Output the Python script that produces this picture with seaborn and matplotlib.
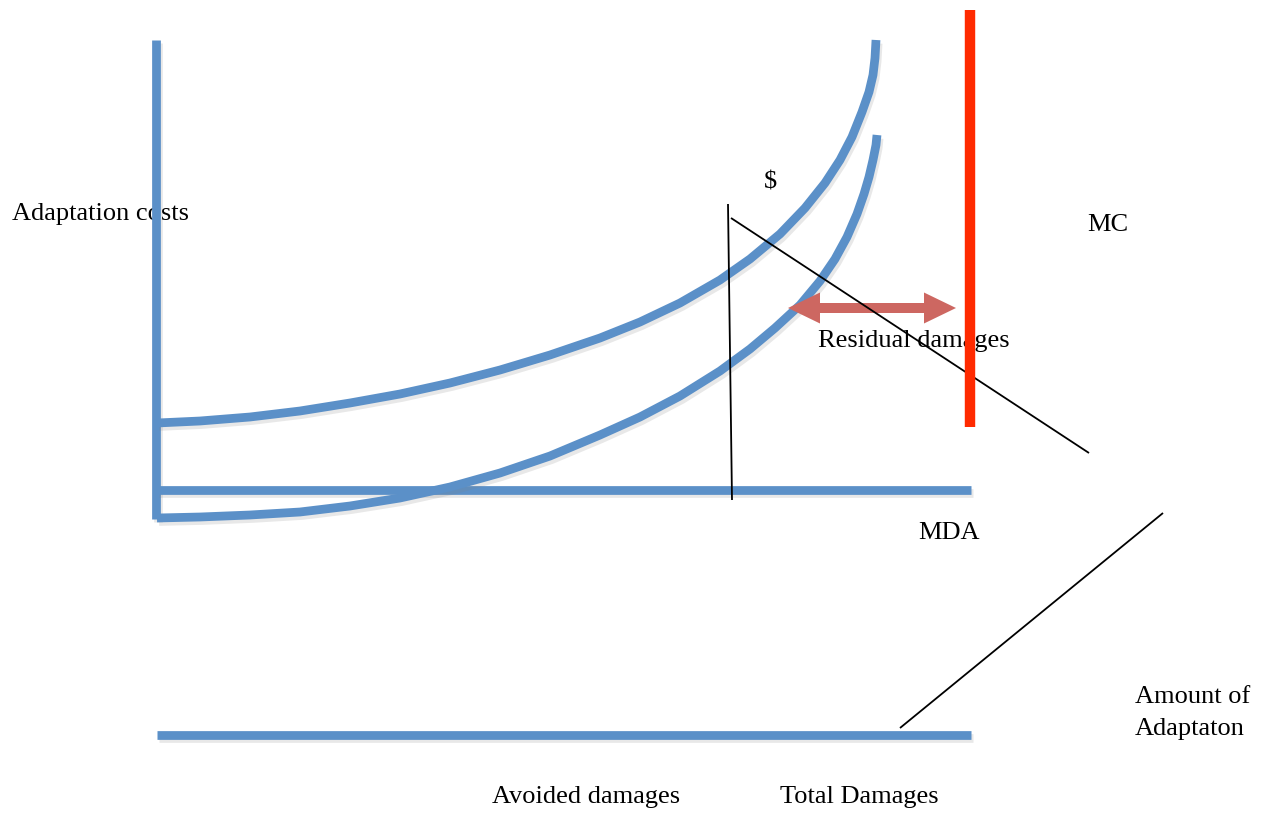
import matplotlib
matplotlib.use('Agg')
import matplotlib.pyplot as plt
import matplotlib.patheffects as pe
import seaborn as sns

# diagram, in pixel units (x right, y down)
upper_x = [157, 200, 250, 300, 350, 400, 450, 500, 550, 600, 640, 680, 720, 750, 780, 805,
           825, 840, 852, 862, 869, 873, 875, 876]
upper_y = [423, 421, 417, 411, 403, 394, 383, 370, 355, 338, 322, 303, 280, 259, 234, 208,
           183, 160, 137, 112, 92, 75, 58, 40]
lower_x = [157, 200, 250, 300, 350, 400, 450, 500, 550, 600, 640, 680, 720, 750, 775, 800,
           820, 835, 847, 857, 864, 869, 873, 876, 877]
lower_y = [518, 517, 515, 512, 506, 498, 487, 473, 456, 435, 417, 396, 371, 349, 328, 305,
           281, 259, 237, 214, 194, 177, 160, 145, 135]

yaxis_x = [156, 156]
yaxis_y = [40, 519]
mda_x = [157, 971]
mda_y = [490, 490]
base_x = [157, 971]
base_y = [735, 735]
mc_x = [970, 970]
mc_y = [10, 427]
vert_x = [728, 732]
vert_y = [204, 500]
diag_x = [731, 1089]
diag_y = [218, 453]
diag2_x = [900, 1163]
diag2_y = [728, 513]
arrow_x = [788, 956]
arrow_y = 308

labels = [
    (12, 220, 'Adaptation costs'),
    (764, 188, '$'),
    (1087, 231, 'MC'),
    (818, 347, 'Residual damages'),
    (918, 539, 'MDA'),
    (1135, 703, 'Amount of'),
    (1135, 735, 'Adaptaton'),
    (492, 803, 'Avoided damages'),
    (780, 803, 'Total Damages'),
]

blue = '#5B90C8'
red = '#FF2A00'
arrow_col = '#CD6761'

sns.set_theme(style='white')
plt.rcParams['font.family'] = ['Liberation Serif', 'DejaVu Serif']

fig = plt.figure(figsize=(12.64, 8.13), dpi=100)
ax = fig.add_axes([0, 0, 1, 1])
ax.set_xlim(0, 1264)
ax.set_ylim(813, 0)
ax.axis('off')

shadow = [pe.SimpleLineShadow(offset=(1.5, -2.5), shadow_color='gray', alpha=0.18), pe.Normal()]


def draw(x, y, color, lw, z, fx=None):
    sns.lineplot(x=x, y=y, sort=False, estimator=None, color=color, lw=lw, ax=ax,
                 zorder=z, path_effects=fx, solid_capstyle='butt', solid_joinstyle='round')


draw(yaxis_x, yaxis_y, blue, 6.3, 3, shadow)
draw(mda_x, mda_y, blue, 6.3, 3, shadow)
draw(base_x, base_y, blue, 6.3, 3, shadow)
draw(upper_x, upper_y, blue, 6.3, 3, shadow)
draw(lower_x, lower_y, blue, 6.3, 3, shadow)
draw(vert_x, vert_y, 'black', 1.3, 4)
draw(diag_x, diag_y, 'black', 1.3, 4)
draw(diag2_x, diag2_y, 'black', 1.3, 4)
draw(mc_x, mc_y, red, 7.5, 5)

# double arrow for residual damages
mid = (arrow_x[0] + arrow_x[1]) / 2
for end in arrow_x:
    ax.arrow(mid, arrow_y, end - mid, 0, width=10, head_width=31, head_length=32,
             length_includes_head=True, color=arrow_col, lw=0, zorder=3.5)

for x, y, s in labels:
    ax.text(x, y, s, fontsize=19, ha='left', va='baseline', color='black', zorder=2)

fig.savefig('out.png', dpi=100)
